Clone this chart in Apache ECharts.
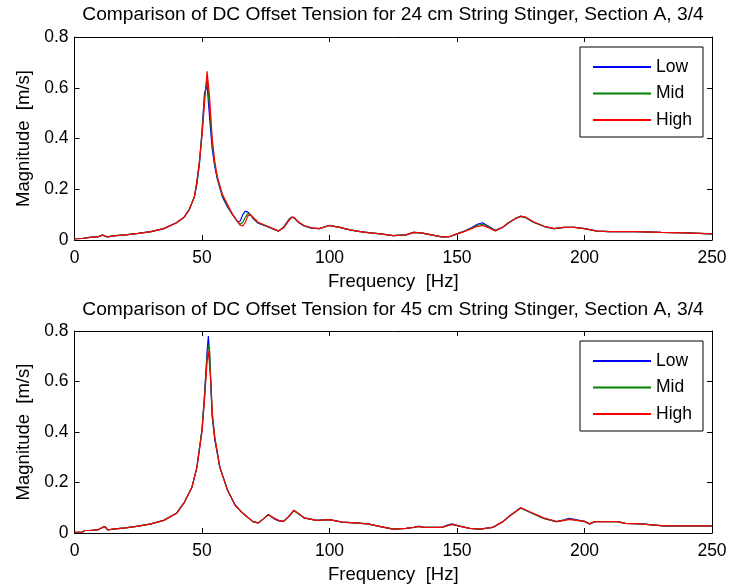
<!DOCTYPE html>
<html>
<head>
<meta charset="utf-8">
<script src="https://cdn.jsdelivr.net/npm/echarts@6/dist/echarts.min.js"></script>
<style>html,body{margin:0;padding:0;background:#fff}#c{width:730px;height:588px}</style>
</head>
<body>
<div id="c"></div>
<script>
// ---- Data ----
const titles = [
  'Comparison of DC Offset Tension for 24 cm String Stinger, Section A, 3/4',
  'Comparison of DC Offset Tension for 45 cm String Stinger, Section A, 3/4'
];
const seriesNames = ['Low', 'Mid', 'High'];
const xTicks = [0, 50, 100, 150, 200, 250];
const yTicks = [0, 0.2, 0.4, 0.6, 0.8];

// Top plot (24 cm)
const freqA = [0,3,6,9,11,12,13,15,20,25,30,35,40,43,45,47,48,49,50,51,52,53,54,55,56,58,60,62,64,65,66,67,68,69,70,72,75,78,80,82,84,85,86,88,90,93,96,100,104,108,112,116,120,125,130,133,136,140,144,147,150,153,156,158,160,162,165,168,170,173,175,177,180,184,188,192,196,200,205,210,220,230,240,250];
const lowA  = [0.005,0.006,0.01,0.012,0.02,0.015,0.012,0.016,0.02,0.026,0.033,0.045,0.068,0.09,0.12,0.17,0.22,0.3,0.43,0.58,0.61,0.48,0.36,0.29,0.24,0.17,0.13,0.1,0.072,0.075,0.1,0.114,0.11,0.1,0.085,0.066,0.055,0.043,0.035,0.05,0.08,0.09,0.088,0.068,0.055,0.047,0.045,0.058,0.05,0.04,0.033,0.028,0.024,0.017,0.02,0.03,0.028,0.02,0.012,0.013,0.024,0.035,0.05,0.062,0.068,0.056,0.038,0.05,0.067,0.085,0.093,0.088,0.07,0.054,0.045,0.05,0.05,0.045,0.035,0.033,0.033,0.03,0.028,0.024];
const midA  = [0.005,0.006,0.01,0.012,0.019,0.015,0.012,0.016,0.02,0.026,0.033,0.045,0.068,0.09,0.12,0.17,0.23,0.31,0.42,0.56,0.64,0.52,0.38,0.3,0.245,0.175,0.135,0.1,0.072,0.062,0.07,0.09,0.104,0.1,0.088,0.068,0.056,0.044,0.035,0.05,0.078,0.088,0.088,0.069,0.056,0.047,0.045,0.057,0.05,0.04,0.033,0.028,0.024,0.017,0.02,0.03,0.028,0.02,0.012,0.013,0.024,0.035,0.048,0.058,0.062,0.053,0.037,0.05,0.066,0.085,0.093,0.088,0.07,0.054,0.045,0.05,0.05,0.045,0.035,0.033,0.033,0.03,0.028,0.024];
const highA = [0.005,0.006,0.01,0.012,0.019,0.015,0.012,0.016,0.02,0.026,0.033,0.045,0.068,0.09,0.12,0.17,0.23,0.31,0.41,0.54,0.665,0.56,0.4,0.31,0.25,0.18,0.14,0.1,0.072,0.058,0.056,0.07,0.095,0.1,0.09,0.07,0.057,0.044,0.036,0.048,0.075,0.088,0.09,0.07,0.057,0.048,0.045,0.057,0.05,0.04,0.033,0.028,0.024,0.017,0.02,0.03,0.028,0.02,0.012,0.013,0.024,0.034,0.046,0.054,0.057,0.05,0.036,0.05,0.066,0.085,0.094,0.09,0.072,0.055,0.045,0.05,0.05,0.045,0.035,0.033,0.033,0.03,0.028,0.024];

// Bottom plot (45 cm)
const freqB = [0,3,4,6,9,11,12,13,15,20,25,30,35,40,43,46,48,50,51,52,52.5,53,53.5,54,55,57,60,63,66,70,72,74,76,78,80,82,84,86,88,90,95,100,105,110,115,120,125,130,133,135,137,140,144,146,148,151,155,159,164,168,171,175,179,184,189,192,194,197,200,202,204,208,213,216,222,231,240,250];
const lowB  = [0.003,0.003,0.01,0.01,0.012,0.022,0.025,0.012,0.015,0.02,0.027,0.036,0.05,0.078,0.12,0.18,0.26,0.41,0.55,0.72,0.78,0.7,0.57,0.46,0.37,0.26,0.17,0.11,0.078,0.045,0.04,0.055,0.073,0.058,0.048,0.046,0.065,0.09,0.075,0.06,0.05,0.053,0.043,0.04,0.036,0.025,0.015,0.018,0.022,0.026,0.022,0.022,0.022,0.03,0.036,0.027,0.018,0.015,0.022,0.045,0.07,0.1,0.08,0.058,0.045,0.052,0.058,0.052,0.046,0.036,0.045,0.045,0.045,0.038,0.036,0.028,0.028,0.028];
const midB  = [0.003,0.003,0.01,0.01,0.012,0.022,0.025,0.012,0.015,0.02,0.027,0.036,0.05,0.078,0.12,0.18,0.26,0.41,0.54,0.7,0.745,0.72,0.59,0.47,0.38,0.26,0.17,0.11,0.078,0.045,0.04,0.055,0.073,0.06,0.05,0.046,0.065,0.088,0.075,0.06,0.05,0.053,0.043,0.04,0.036,0.025,0.015,0.018,0.022,0.026,0.022,0.022,0.022,0.028,0.034,0.027,0.018,0.015,0.022,0.045,0.07,0.098,0.08,0.058,0.045,0.05,0.055,0.05,0.046,0.036,0.045,0.045,0.045,0.038,0.036,0.028,0.028,0.028];
const highB = [0.003,0.003,0.01,0.01,0.012,0.022,0.025,0.012,0.015,0.02,0.027,0.036,0.05,0.078,0.12,0.18,0.26,0.4,0.53,0.68,0.72,0.725,0.6,0.48,0.38,0.26,0.17,0.11,0.078,0.045,0.04,0.055,0.072,0.06,0.05,0.046,0.066,0.09,0.076,0.06,0.05,0.053,0.043,0.04,0.036,0.025,0.015,0.018,0.022,0.026,0.022,0.022,0.022,0.028,0.034,0.027,0.018,0.015,0.022,0.045,0.07,0.1,0.082,0.06,0.045,0.05,0.054,0.05,0.046,0.036,0.045,0.045,0.045,0.038,0.036,0.028,0.028,0.028];

const colors = ['#0000ff', '#008000', '#ff0000'];
const FONT = '"Liberation Sans", Arial, sans-serif';

function pairs(fx, ys) { return fx.map((f, i) => [f, ys[i]]); }

const plots = [
  { freq: freqA, vals: [lowA, midA, highA] },
  { freq: freqB, vals: [lowB, midB, highB] }
];

const grids = [
  { left: 74.5, right: 18, top: 37, height: 203 },
  { left: 74.5, right: 18, top: 331, height: 202 }
];

const xAxes = [], yAxes = [], series = [];
grids.forEach((g, gi) => {
  const base = {
    type: 'value', gridIndex: gi, min: 0, max: 250, interval: 50,
    axisLine: { show: true, onZero: false, lineStyle: { color: '#000', width: 1 } },
    axisTick: { show: true, inside: true, length: 5, lineStyle: { color: '#000' } },
    splitLine: { show: false }
  };
  xAxes.push(Object.assign({}, base, {
    position: 'bottom',
    axisLabel: { show: true, color: '#000', fontSize: 17.5, fontFamily: FONT, margin: 9 },
    name: 'Frequency  [Hz]', nameLocation: 'middle', nameGap: 32,
    nameTextStyle: { color: '#000', fontSize: 18.5, fontFamily: FONT }
  }));
  xAxes.push(Object.assign({}, base, { position: 'top', axisLabel: { show: false } }));
  const ybase = {
    type: 'value', gridIndex: gi, min: 0, max: 0.8, interval: 0.2,
    axisLine: { show: true, onZero: false, lineStyle: { color: '#000', width: 1 } },
    axisTick: { show: true, inside: true, length: 5, lineStyle: { color: '#000' } },
    splitLine: { show: false }
  };
  yAxes.push(Object.assign({}, ybase, {
    position: 'left',
    axisLabel: { show: true, color: '#000', fontSize: 17.5, fontFamily: FONT, margin: 6,
      formatter: v => (Math.abs(v) < 1e-9 ? '0' : String(+v.toFixed(1))) },
    name: 'Magnitude  [m/s]', nameLocation: 'middle', nameGap: 39, nameRotate: 90,
    nameTextStyle: { color: '#000', fontSize: 18.5, fontFamily: FONT }
  }));
  yAxes.push(Object.assign({}, ybase, { position: 'right', axisLabel: { show: false } }));

  seriesNames.forEach((n, si) => {
    series.push({
      name: n, type: 'line', xAxisIndex: gi * 2, yAxisIndex: gi * 2,
      data: pairs(plots[gi].freq, plots[gi].vals[si]),
      symbol: 'none', showSymbol: false, smooth: false,
      lineStyle: { color: colors[si], width: 1.2 }, itemStyle: { color: colors[si] },
      animation: false
    });
  });
});

const legendBase = {
  orient: 'vertical', left: 580,
  backgroundColor: '#fff', borderColor: '#000', borderWidth: 1, borderRadius: 0,
  padding: [11, 11, 8, 12], itemWidth: 58, itemHeight: 16, itemGap: 8.5,
  textStyle: { color: '#000', fontSize: 17.5, fontFamily: FONT },
  itemStyle: { opacity: 0 },
  data: seriesNames, selectedMode: false
};

const chart = echarts.init(document.getElementById('c'), null, { renderer: 'canvas' });
chart.setOption({
  animation: false,
  backgroundColor: '#fff',
  title: titles.map((t, i) => ({
    text: t, left: 393, textAlign: 'center', top: i === 0 ? 5 : 300, padding: 0,
    textStyle: { color: '#000', fontSize: 19.2, fontWeight: 'normal', fontFamily: FONT }
  })),
  legend: [
    Object.assign({}, legendBase, { top: 47 }),
    Object.assign({}, legendBase, { top: 341 })
  ],
  grid: grids,
  xAxis: xAxes,
  yAxis: yAxes,
  series: series
});
</script>
</body>
</html>
